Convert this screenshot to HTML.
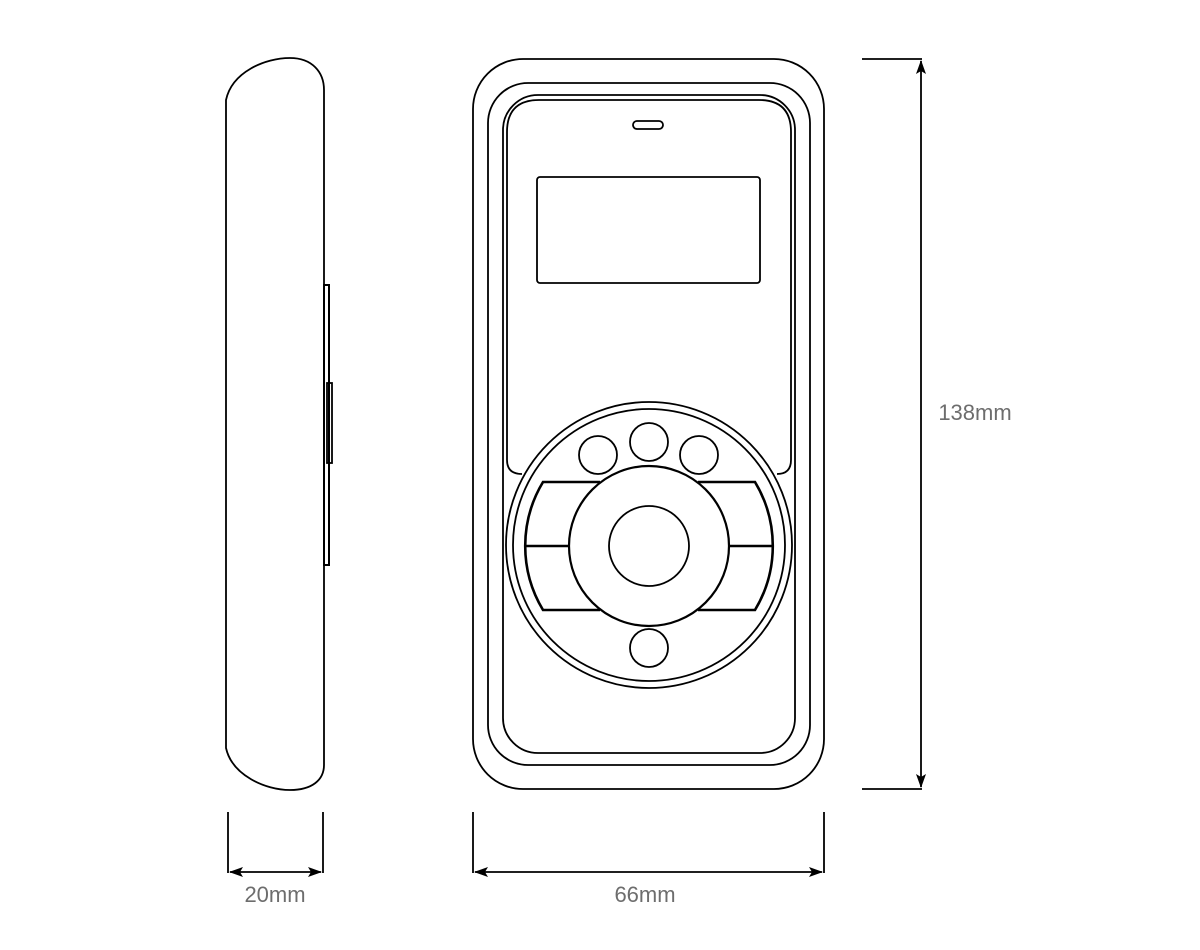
<!DOCTYPE html>
<html><head><meta charset="utf-8"><style>
html,body{margin:0;padding:0;background:#fff}
svg{display:block}
text{font-family:"Liberation Sans",sans-serif;font-size:22px;fill:#6d6d6d}
</style></head><body>
<svg width="1200" height="950" viewBox="0 0 1200 950" xmlns="http://www.w3.org/2000/svg">
<defs>
<marker id="a" markerWidth="14" markerHeight="10" refX="13" refY="5" orient="auto" markerUnits="userSpaceOnUse" viewBox="0 0 14 10"><path d="M0,0 L14,5 L0,10 L3,5 Z" fill="#000"/></marker>
<marker id="as" markerWidth="14" markerHeight="10" refX="1" refY="5" orient="auto" markerUnits="userSpaceOnUse" viewBox="0 0 14 10"><path d="M14,0 L0,5 L14,10 L11,5 Z" fill="#000"/></marker>
</defs>
<g fill="none" stroke="#000" stroke-width="1.8">
<!-- side view -->
<path d="M226,100 C232,72 265,58 290,58 C312,58 324,72 324,90 L324,765 C324,780 312,790 290,790 C265,790 232,775 226,748 Z"/>
<rect x="324" y="285" width="5" height="280" stroke-width="2"/>
<rect x="327" y="383" width="5" height="80" stroke-width="1.8"/>
<!-- front view -->
<rect x="473" y="59" width="351" height="730" rx="50"/>
<rect x="488" y="83" width="322" height="682" rx="40"/>
<rect x="503" y="95" width="292" height="658" rx="35"/>
<path d="M522,474 Q507,474 507,460 L507,132 Q507,100 539,100 L759,100 Q791,100 791,132 L791,460 Q791,474 777,474"/>
<rect x="633" y="121" width="30" height="8" rx="4"/>
<rect x="537" y="177" width="223" height="106" rx="3"/>
<circle cx="649" cy="545" r="143" fill="#fff"/>
<circle cx="649" cy="545" r="136"/>
<circle cx="598" cy="455" r="19"/>
<circle cx="649" cy="442" r="19"/>
<circle cx="699" cy="455" r="19"/>
<circle cx="649" cy="648" r="19"/>
<g stroke-width="2.6">
<path d="M600,482 L543,482 A124,124 0 0 0 543,610 L600,610"/>
<path d="M698,482 L755,482 A124,124 0 0 1 755,610 L698,610"/>
<line x1="525" y1="546" x2="575" y2="546"/>
<line x1="723" y1="546" x2="773" y2="546"/>
</g>
<circle cx="649" cy="546" r="80" fill="#fff" stroke-width="2.2"/>
<circle cx="649" cy="546" r="40"/>
</g>
<!-- dimensions -->
<g stroke="#000" stroke-width="1.8" fill="none">
<line x1="862" y1="59" x2="922" y2="59"/>
<line x1="862" y1="789" x2="922" y2="789"/>
<line x1="921" y1="61" x2="921" y2="787" marker-start="url(#as)" marker-end="url(#a)"/>
<line x1="228" y1="812" x2="228" y2="873"/>
<line x1="323" y1="812" x2="323" y2="873"/>
<line x1="230" y1="872" x2="321" y2="872" marker-start="url(#as)" marker-end="url(#a)"/>
<line x1="473" y1="812" x2="473" y2="873"/>
<line x1="824" y1="812" x2="824" y2="873"/>
<line x1="475" y1="872" x2="822" y2="872" marker-start="url(#as)" marker-end="url(#a)"/>
</g>
<text x="975" y="420" text-anchor="middle">138mm</text>
<text x="275" y="902" text-anchor="middle">20mm</text>
<text x="645" y="902" text-anchor="middle">66mm</text>
</svg>
</body></html>
